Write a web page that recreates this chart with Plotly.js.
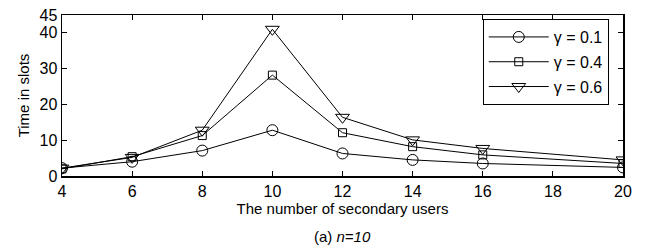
<!DOCTYPE html>
<html><head><meta charset="utf-8">
<script src="https://cdn.plot.ly/plotly-3.0.1.min.js"></script>
<style>html,body{margin:0;padding:0;background:#fff}#c{width:647px;height:248px}</style>
</head><body><div id="c"></div>
<script>
var users = [4, 6, 8, 10, 12, 14, 16, 20];
var gamma01 = [2.2, 4.0, 7.1, 12.8, 6.3, 4.5, 3.5, 2.4];
var gamma04 = [2.0, 5.4, 11.3, 28.2, 12.1, 8.2, 5.9, 3.5];
var gamma06 = [2.2, 5.2, 12.8, 41.0, 16.4, 10.1, 7.7, 4.5];
var seriesNames = ['γ = 0.1', 'γ = 0.4', 'γ = 0.6'];
var xTicks = [4, 6, 8, 10, 12, 14, 16, 18, 20];
var yTicks = [0, 10, 20, 30, 40, 45];

var F = 'Liberation Sans, Arial, Helvetica, sans-serif';
function tr(y, name, sym, size, g) {
  return {x: users, y: y, name: name, mode: 'lines+markers', legendgroup: g,
    line: {color: '#000', width: 1},
    marker: {symbol: sym, size: size, color: '#000', line: {color: '#000', width: 1}}};
}
var data = [
  tr(gamma01, seriesNames[0], 'circle-open', 11, 'a'),
  tr(gamma04, seriesNames[1], 'square-open', 8, 'b'),
  tr(gamma06, seriesNames[2], 'triangle-down-open', 12, 'c')
];
var ax = {showgrid: false, zeroline: false, showline: true, mirror: 'ticks', linecolor: '#000', linewidth: 1.5,
  ticks: 'inside', ticklen: 5, tickcolor: '#000', tickfont: {family: F, size: 16, color: '#000'}};
var layout = {
  width: 647, height: 248,
  margin: {l: 62, r: 24, t: 15, b: 72},
  paper_bgcolor: '#fff', plot_bgcolor: '#fff',
  font: {family: F, color: '#000'},
  showlegend: true,
  legend: {x: 0.75, y: 0.975, xanchor: 'left', yanchor: 'top', bgcolor: '#fff', bordercolor: '#000', borderwidth: 1,
    font: {family: F, size: 16, color: '#000'}, traceorder: 'grouped', tracegroupgap: 1, itemwidth: 60},
  xaxis: Object.assign({}, ax, {range: [4, 20], tickvals: xTicks,
    title: {text: 'The number of secondary users', font: {family: F, size: 15, color: '#000'}, standoff: 2}}),
  yaxis: Object.assign({}, ax, {range: [0, 45], tickvals: yTicks,
    title: {text: 'Time in slots', font: {family: F, size: 15, color: '#000'}, standoff: 6}}),
  annotations: [{xref: 'paper', yref: 'paper', x: 0.5, y: -0.377, xanchor: 'center', yanchor: 'middle', showarrow: false,
    text: '(a) <i>n=10</i>', font: {family: F, size: 15, color: '#000'}}]
};
Plotly.newPlot('c', data, layout, {displayModeBar: false, staticPlot: true});
</script></body></html>
